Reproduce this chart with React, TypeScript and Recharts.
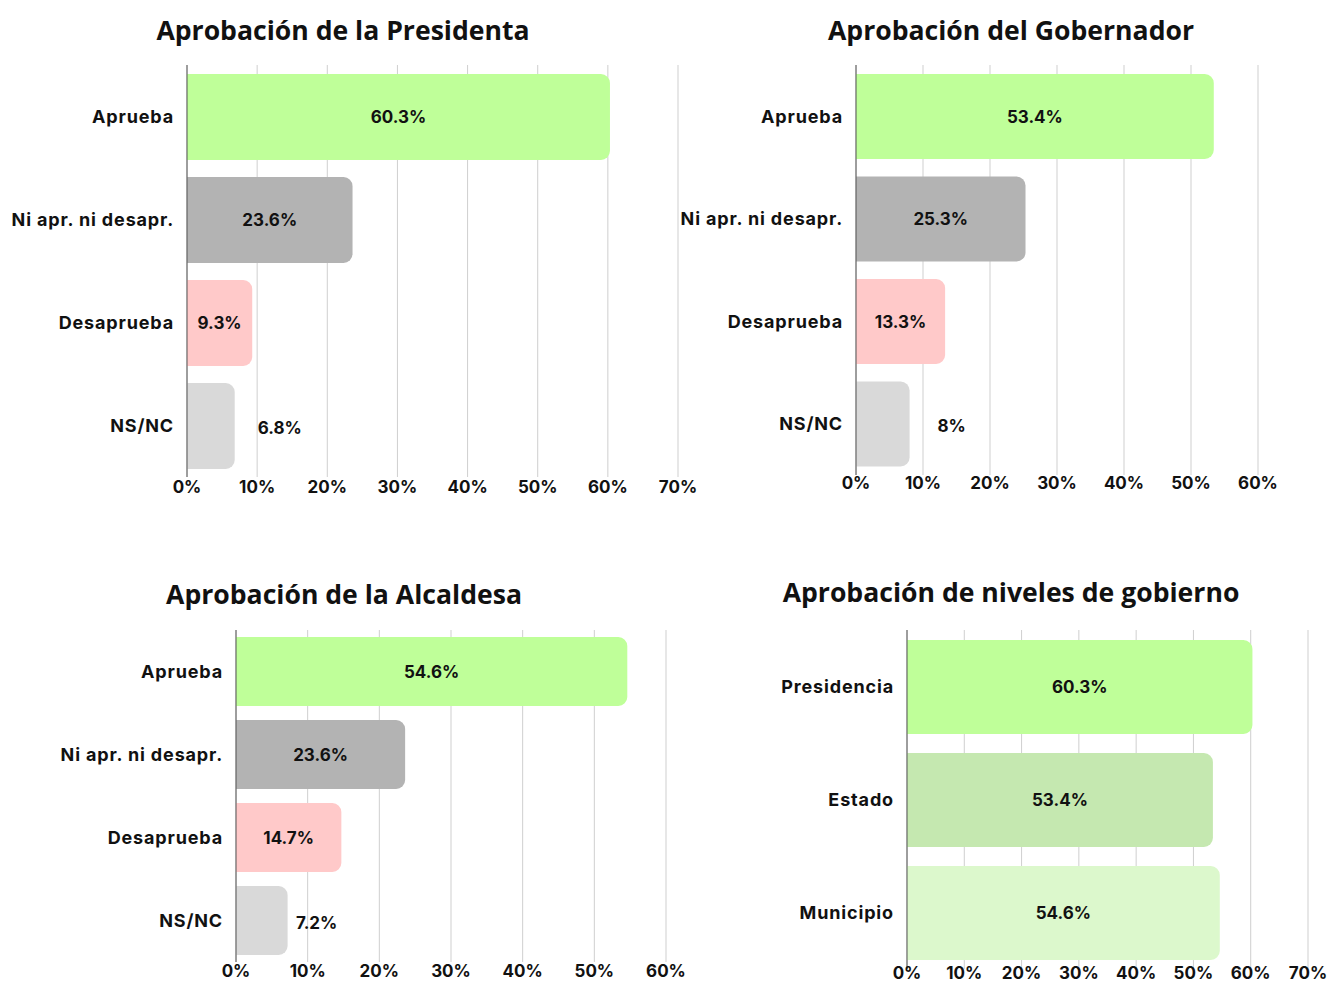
import { BarChart, Bar, XAxis, YAxis, CartesianGrid, Cell, LabelList } from 'recharts'

const RESPUESTAS = ['Aprueba', 'Ni apr. ni desapr.', 'Desaprueba', 'NS/NC']
const PRESIDENTA = [60.3, 23.6, 9.3, 6.8]
const GOBERNADOR = [53.4, 25.3, 13.3, 8]
const ALCALDESA = [54.6, 23.6, 14.7, 7.2]

const NIVELES = ['Presidencia', 'Estado', 'Municipio']
const NIVELES_VALORES = [60.3, 53.4, 54.6]

const TICKS_70 = [0, 10, 20, 30, 40, 50, 60, 70]
const TICKS_60 = [0, 10, 20, 30, 40, 50, 60]

const COLORES_RESPUESTA = ['#bfff99', '#b3b3b3', '#ffc9c9', '#d9d9d9']
const COLORES_NIVELES = ['#bfff99', '#c5e8b0', '#dcf8cc']

const LABEL_FONT = 'Inter, "Open Sans", sans-serif'
const TITLE_FONT = '"Open Sans", "Noto Sans", sans-serif'

interface PanelProps {
  title: string
  titleX: number
  titleY: number
  categories: string[]
  values: number[]
  colors: string[]
  ticks: number[]
  left: number
  top: number
  width: number
  height: number
  margin: { top: number; right: number; bottom: number; left: number }
  yWidth: number
  xHeight: number
  barSize: number
  tickMargin: number
  outsideIndex?: number
  outsideOffset?: number
}

function makeLabel(outsideIndex: number, outsideOffset: number) {
  return (props: any) => {
    const { x, y, width, height, value, index } = props
    const outside = index === outsideIndex
    const cx = outside ? x + width + outsideOffset : x + width / 2
    return (
      <text
        x={cx}
        y={y + height / 2 + (outside ? 2 : 0)}
        textAnchor="middle"
        dominantBaseline="central"
        fill="#111"
        fontFamily={LABEL_FONT}
        fontWeight={700}
        fontSize={17}
      >
        {`${value}%`}
      </text>
    )
  }
}

function Panel(p: PanelProps) {
  const data = p.categories.map((name, i) => ({ name, value: p.values[i] }))
  const max = p.ticks[p.ticks.length - 1]
  return (
    <>
      <div
        style={{
          position: 'absolute',
          left: p.titleX,
          top: p.titleY,
          transform: 'translate(-50%, -50%)',
          whiteSpace: 'nowrap',
          fontFamily: TITLE_FONT,
          fontWeight: 700,
          fontSize: 26.6,
          color: '#111',
        }}
      >
        {p.title}
      </div>
      <div style={{ position: 'absolute', left: p.left, top: p.top }}>
        <BarChart
          width={p.width}
          height={p.height}
          data={data}
          layout="vertical"
          margin={p.margin}
          barCategoryGap={0}
        >
          <CartesianGrid horizontal={false} stroke="#cfcfcf" />
          <XAxis
            type="number"
            domain={[0, max]}
            ticks={p.ticks}
            tickFormatter={(v) => `${v}%`}
            height={p.xHeight}
            axisLine={false}
            tickLine={false}
            tickSize={0}
            tickMargin={p.tickMargin}
            interval={0}
            tick={{ fill: '#111', fontSize: 17, fontWeight: 700, fontFamily: LABEL_FONT }}
          />
          <YAxis
            type="category"
            dataKey="name"
            width={p.yWidth}
            axisLine={{ stroke: '#555' }}
            tickLine={false}
            tickSize={0}
            tickMargin={13}
            interval={0}
            tick={{
              fill: '#111',
              fontSize: 18,
              fontWeight: 700,
              fontFamily: LABEL_FONT,
              letterSpacing: 0.85,
            }}
          />
          <Bar dataKey="value" barSize={p.barSize} radius={[0, 9, 9, 0]} isAnimationActive={false}>
            {data.map((d, i) => (
              <Cell key={d.name} fill={p.colors[i]} />
            ))}
            <LabelList
              dataKey="value"
              content={makeLabel(p.outsideIndex ?? -1, p.outsideOffset ?? 0)}
            />
          </Bar>
        </BarChart>
      </div>
    </>
  )
}

export default function App() {
  return (
    <div style={{ position: 'absolute', left: 0, top: 0, width: 1331, height: 983, background: '#fff', overflow: 'hidden' }}>
      <Panel
        title="Aprobación de la Presidenta"
        titleX={343}
        titleY={30}
        categories={RESPUESTAS}
        values={PRESIDENTA}
        colors={COLORES_RESPUESTA}
        ticks={TICKS_70}
        left={0}
        top={0}
        width={710}
        height={510}
        margin={{ top: 65, right: 32, bottom: 3, left: 0 }}
        yWidth={187}
        xHeight={30}
        barSize={86}
        tickMargin={4}
        outsideIndex={3}
        outsideOffset={45}
      />
      <Panel
        title="Aprobación del Gobernador"
        titleX={1011}
        titleY={30}
        categories={RESPUESTAS}
        values={GOBERNADOR}
        colors={COLORES_RESPUESTA}
        ticks={TICKS_60}
        left={670}
        top={0}
        width={661}
        height={510}
        margin={{ top: 65, right: 73, bottom: 5, left: 0 }}
        yWidth={186}
        xHeight={30}
        barSize={85}
        tickMargin={2}
        outsideIndex={3}
        outsideOffset={42}
      />
      <Panel
        title="Aprobación de la Alcaldesa"
        titleX={344}
        titleY={594}
        categories={RESPUESTAS}
        values={ALCALDESA}
        colors={COLORES_RESPUESTA}
        ticks={TICKS_60}
        left={0}
        top={560}
        width={710}
        height={423}
        margin={{ top: 70, right: 44, bottom: 1, left: 0 }}
        yWidth={236}
        xHeight={20}
        barSize={69}
        tickMargin={3}
        outsideIndex={3}
        outsideOffset={29}
      />
      <Panel
        title="Aprobación de niveles de gobierno"
        titleX={1011}
        titleY={592}
        categories={NIVELES}
        values={NIVELES_VALORES}
        colors={COLORES_NIVELES}
        ticks={TICKS_70}
        left={760}
        top={560}
        width={571}
        height={423}
        margin={{ top: 70, right: 23, bottom: 0, left: 0 }}
        yWidth={147}
        xHeight={14}
        barSize={94}
        tickMargin={-2}
      />
    </div>
  )
}
